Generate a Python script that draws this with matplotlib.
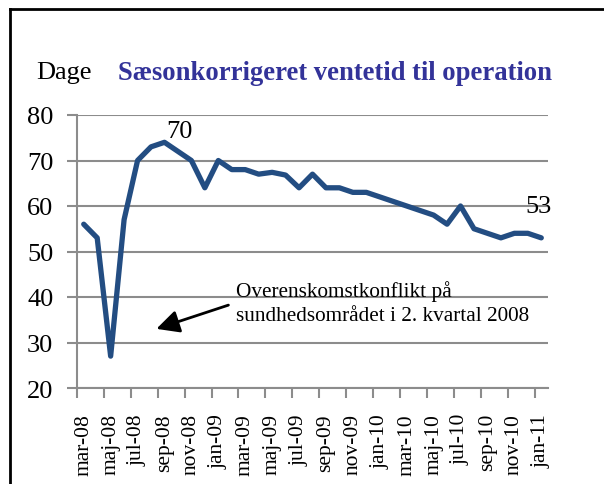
import numpy as np
import matplotlib
matplotlib.use("Agg")
from matplotlib import pyplot as plt
from matplotlib.lines import Line2D

# monthly, seasonally adjusted waiting time (days), mar-08 .. jan-11
months = ["mar-08", "apr-08", "maj-08", "jun-08", "jul-08", "aug-08", "sep-08",
          "okt-08", "nov-08", "dec-08", "jan-09", "feb-09", "mar-09", "apr-09",
          "maj-09", "jun-09", "jul-09", "aug-09", "sep-09", "okt-09", "nov-09",
          "dec-09", "jan-10", "feb-10", "mar-10", "apr-10", "maj-10", "jun-10",
          "jul-10", "aug-10", "sep-10", "okt-10", "nov-10", "dec-10", "jan-11"]
ventetid = [56, 53, 27, 57, 70, 73, 74, 72, 70, 64, 70, 68, 68, 67, 67.4,
            66.8, 64, 67, 64, 64, 63, 63, 62, 61, 60, 59, 58, 56, 60, 55,
            54, 53, 54, 54, 53]

plt.rcParams['font.family'] = ['Liberation Serif', 'DejaVu Serif']

fig = plt.figure(figsize=(6.04, 4.85), dpi=100)
ax = fig.add_axes([77/604, 1-389/485, (548-77)/604, (389-116)/485])

x = np.arange(len(months))
ax.plot(x, ventetid, color='#234D82', linewidth=3.8, solid_joinstyle='round',
        solid_capstyle='round', zorder=3)

ax.set_xlim(-0.5, len(months)-0.5)
ax.set_ylim(20, 80)
ax.set_yticks(range(20, 81, 10))
ax.grid(axis='y', color='#8c8c8c', linewidth=1.5)
ax.set_axisbelow(True)

# labels on every other month, tick marks between categories
ax.set_xticks(x[::2])
ax.set_xticklabels(months[::2], rotation=90, fontsize=15.5)
ax.set_xticks(np.arange(-0.5, len(months)-1, 2), minor=True)
ax.tick_params(axis='x', which='major', length=0, pad=18)
ax.tick_params(axis='x', which='minor', length=7, width=1.5, color='#8c8c8c', direction='out')
ax.tick_params(axis='y', length=7, width=1.5, color='#8c8c8c', labelsize=19, pad=10)

for s in ['top', 'right']:
    ax.spines[s].set_visible(False)
for s in ['left', 'bottom']:
    ax.spines[s].set_color('#8c8c8c')
    ax.spines[s].set_linewidth(1.5)

ax.text(7.1, 76.5, "70", fontsize=19, ha='center', va='center')
ax.text(33.8, 60.0, "53", fontsize=19, ha='center', va='center')

ax.annotate("Overenskomstkonflikt på\nsundhedsområdet i 2. kvartal 2008",
            xy=(5.4, 33.0), xytext=(11.35, 38.8), fontsize=15.3,
            ha='left', va='center', linespacing=1.4,
            arrowprops=dict(arrowstyle='-|>,head_length=0.9,head_width=0.45',
                            color='black', lw=2, shrinkA=4, shrinkB=0,
                            relpos=(0, 0.5)))

fig.text(36/604, 1-73/485, "Dage", fontsize=19, ha='left', va='center')
fig.text(118/604, 1-73/485, "Sæsonkorrigeret ventetid til operation",
         fontsize=19.2, fontweight='bold', color='#333399', ha='left', va='center')

# outer frame (cut at the right and bottom)
fig.add_artist(Line2D([10/604, 10/604], [0, 1-10/485], color='black', lw=2))
fig.add_artist(Line2D([10/604, 1], [1-10/485, 1-10/485], color='black', lw=2))

fig.savefig("out.png", dpi=100)
